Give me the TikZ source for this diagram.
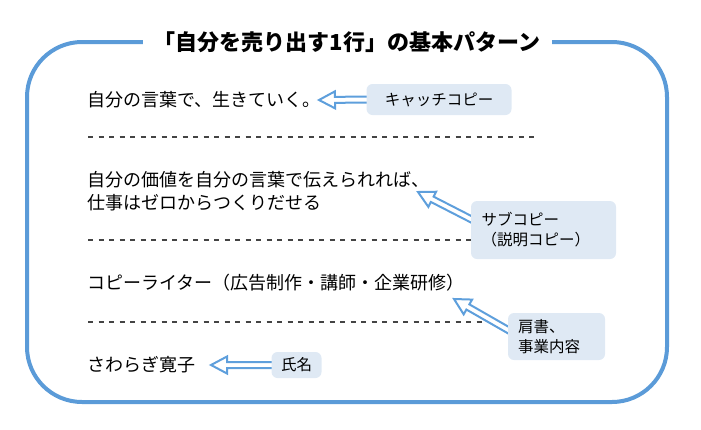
\documentclass[tikz,border=0pt]{standalone}
\usepackage{fontspec}
\setmainfont{Noto Sans CJK JP}
\usetikzlibrary{calc}
\definecolor{frameblue}{HTML}{5B9BD8}
\definecolor{arrowblue}{HTML}{5E9FDC}
\definecolor{tagfill}{HTML}{DFE9F4}
\definecolor{dashgray}{HTML}{444444}
\newcommand{\hollowarrow}[2]{%
  \coordinate (hb) at ($(#2)!16pt!(#1)$);
  \draw[hollow] ($(#1)!3pt!90:(#2)$) -- ($(hb)!3pt!90:(#2)$) -- ($(hb)!8.5pt!90:(#2)$) -- (#2)
     -- ($(hb)!8.5pt!-90:(#2)$) -- ($(hb)!3pt!-90:(#2)$) -- ($(#1)!3pt!-90:(#2)$) -- cycle;}
\begin{document}
\begin{tikzpicture}[x=1pt,y=-1pt,
  frame/.style={draw=frameblue,line width=4pt,rounded corners=55pt},
  body/.style={anchor=base west,inner sep=0pt,font=\fontsize{18}{23}\selectfont,align=left},
  tag/.style={fill=tagfill,rounded corners=6pt,inner sep=0pt,font=\fontsize{15.5}{20}\selectfont},
  sep/.style={draw=dashgray,line width=1.6pt,dash pattern=on 5pt off 5.5pt},
  hollow/.style={draw=arrowblue,fill=white,line width=2pt,line join=miter}]
\useasboundingbox (0,0) rectangle (701,429);
% frame
\draw[frame] (27,42) rectangle (667,402);
\node[fill=white,minimum width=409pt,inner sep=0pt,font=\fontsize{22}{24}\selectfont\bfseries] (title) at (347,42) {「自分を売り出す1行」の基本パターン};
% separators
\draw[sep] (88,137) -- (538,137);
\draw[sep] (88,240) -- (538,240);
\draw[sep] (88,322) -- (486,322);
% body texts
\node[body] (l1) at (87,106.8) {自分の言葉で、生きていく。};
\node[body] (l2) at (87,209.8) {自分の価値を自分の言葉で伝えられれば、\\仕事はゼロからつくりだせる};
\node[body] (l3) at (87,289.8) {コピーライター（広告制作・講師・企業研修）};
\node[body] (l4) at (87,371.8) {さわらぎ寛子};
% arrow targets
\coordinate (t1) at (319,100);
\coordinate (t2) at (418,192);
\coordinate (t3) at (454,299);
\coordinate (t4) at (211,365);
% tags (positions)
\coordinate (c1) at (439,99.5);
\coordinate (c2) at (543.5,230);
\coordinate (c3) at (556.5,336.5);
\coordinate (c4) at (296.5,365);
\coordinate (s1) at ($(c1)+(-68,0)$);
\coordinate (s2) at ($(c2)+(-67,-8)$);
\coordinate (s3) at ($(c3)+(-44,-4)$);
\coordinate (s4) at ($(c4)+(-21,0)$);
\hollowarrow{s1}{t1}
\hollowarrow{s2}{t2}
\hollowarrow{s3}{t3}
\hollowarrow{s4}{t4}
\node[tag,minimum width=145pt,minimum height=31pt] (catch) at (c1) {キャッチコピー};
\node[tag,text width=124pt,inner xsep=10.5pt,minimum height=58pt,align=left] (sub) at (c2) {サブコピー\\（説明コピー）};
\node[tag,text width=77pt,inner xsep=10pt,minimum height=47pt,align=left] (job) at (c3) {肩書、\\事業内容};
\node[tag,minimum width=50pt,minimum height=26pt] (name) at (c4) {氏名};
\end{tikzpicture}
\end{document}
